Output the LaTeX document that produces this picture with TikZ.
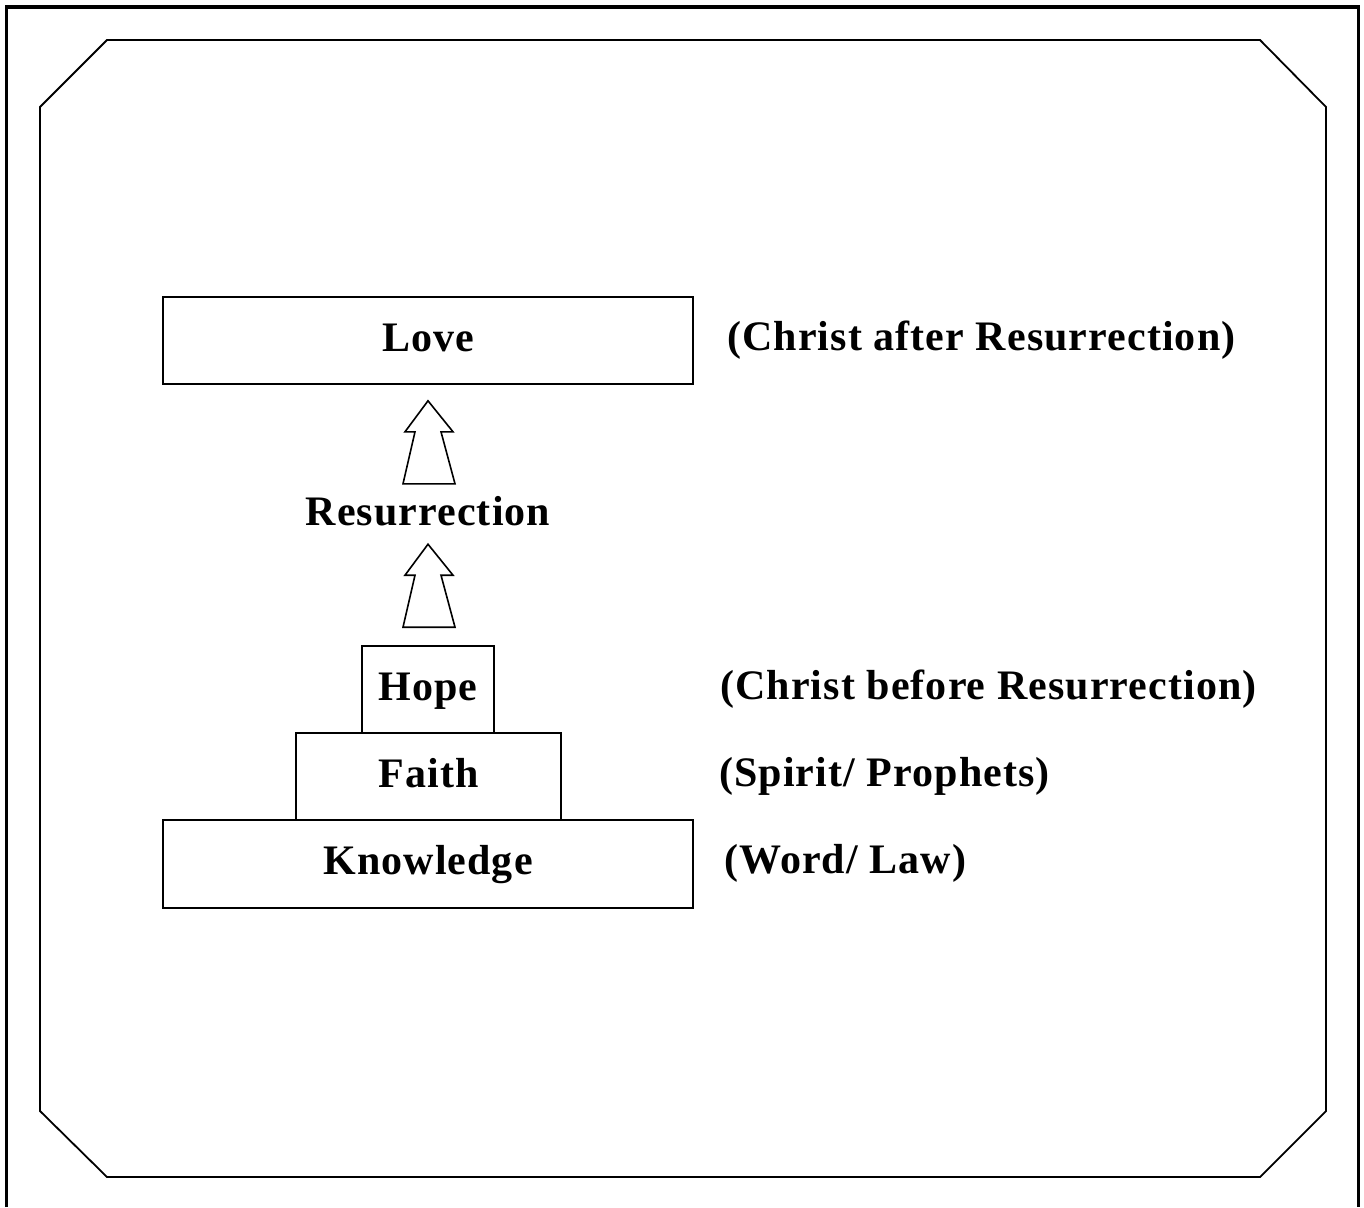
\documentclass[tikz,border=0pt]{standalone}
\usepackage{fontspec}
\setmainfont{Liberation Serif}[LetterSpace=2.6]
\usetikzlibrary{calc}
\begin{document}
\begin{tikzpicture}[x=1pt,y=-1pt,
  boxnode/.style={draw, line width=1.6pt, inner sep=0pt, minimum height=87pt,
    font=\fontsize{42}{50}\selectfont\bfseries, text height=30pt, text depth=9pt},
  sidelbl/.style={anchor=base west, inner sep=0pt, font=\fontsize{42}{50}\selectfont\bfseries},
  frameline/.style={line width=3.2pt},
  octline/.style={line width=1.8pt, line join=miter},
  blockarrow/.style={draw, line width=1.6pt, fill=white, line join=miter}]
\useasboundingbox (0,0) rectangle (1364,1207);
% outer frame (bottom edge lies outside the picture)
\draw[frameline] (6.5,1207) -- (6.5,7) -- (1358.5,7) -- (1358.5,1207);
% inner octagon
\draw[octline] (107,40) -- (1260,40) -- (1326,107) -- (1326,1111) -- (1260,1177)
  -- (107,1177) -- (40,1111) -- (40,107) -- cycle;
% boxes
\node[boxnode, minimum width=530pt] (love) at (428,340.5) {Love};
\node[boxnode, minimum width=132pt] (hope) at (428,689.5) {Hope};
\node[boxnode, minimum width=265pt] (faith) at (428.5,776.5) {Faith};
\node[boxnode, minimum width=530pt, minimum height=88pt] (knowledge) at (428,864) {Knowledge};
\node[inner sep=0pt, font=\fontsize{42}{50}\selectfont\bfseries, text height=30pt, text depth=9pt] (res) at (428,515) {Resurrection};
% side labels
\node[sidelbl] (l1) at (727,350) {(Christ after Resurrection)};
\node[sidelbl] (l2) at (720,699) {(Christ before Resurrection)};
\node[sidelbl] (l3) at (719,786) {(Spirit/ Prophets)};
\node[sidelbl] (l4) at (724,873) {(Word/ Law)};
% block arrows
\coordinate (a1) at ($(love.south)+(0,16)$);
\coordinate (a2) at ($(hope.north)+(0,-101)$);
\draw[blockarrow] (a1) -- ++(25,31) -- ++(-12,0) -- ++(14,52) -- ++(-52,0) -- ++(12,-52) -- ++(-10,0) -- cycle;
\draw[blockarrow] (a2) -- ++(25,31) -- ++(-12,0) -- ++(14,52) -- ++(-52,0) -- ++(12,-52) -- ++(-10,0) -- cycle;
\end{tikzpicture}
\end{document}
